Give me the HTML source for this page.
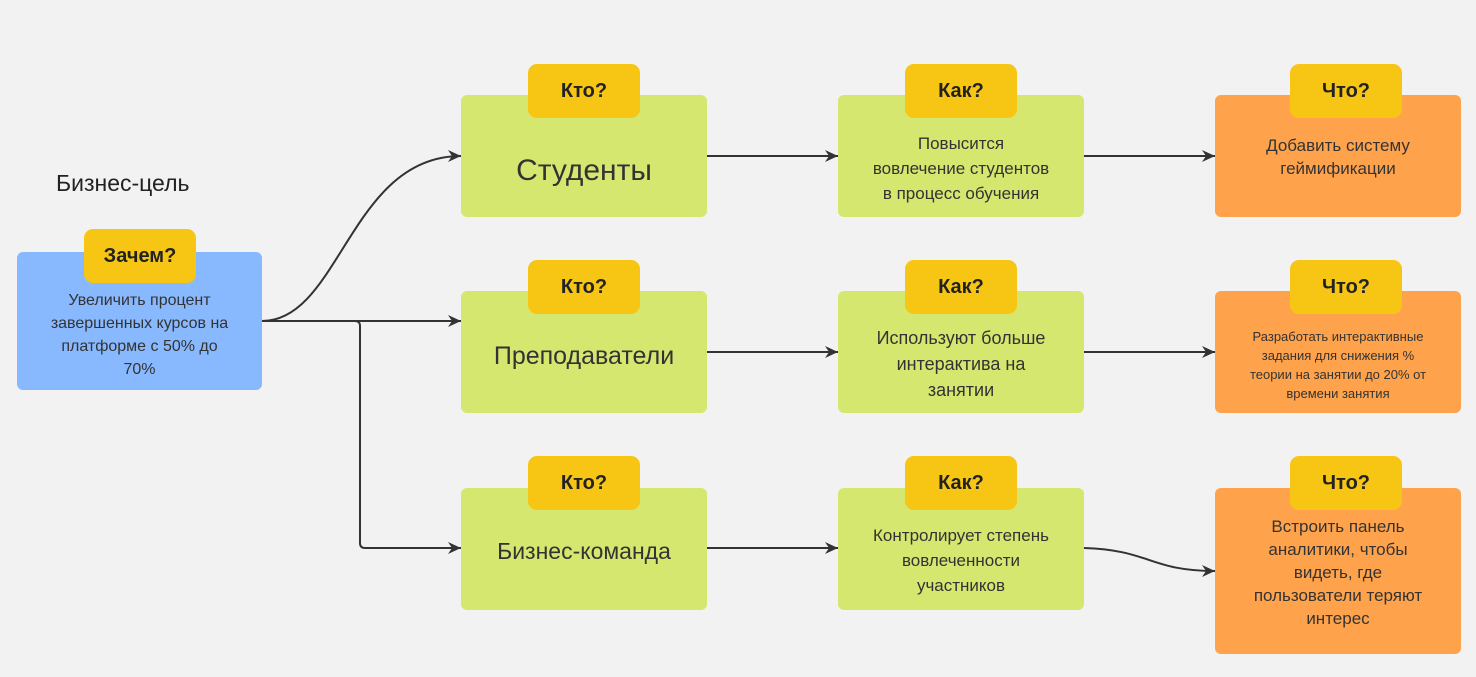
<!DOCTYPE html>
<html><head><meta charset="utf-8"><style>
body{margin:0;width:1476px;height:677px;background:#f2f2f2;position:relative;overflow:hidden;font-family:"Liberation Sans","DejaVu Sans",sans-serif;color:#333}
.b{position:absolute;border-radius:6px;display:flex;align-items:center;justify-content:center;text-align:center;box-sizing:border-box;white-space:nowrap}
.t{position:absolute;width:112px;height:54px;border-radius:9px;background:#f7c614;font-weight:bold;font-size:20px;color:#222;display:flex;justify-content:center;padding-top:16px;box-sizing:border-box}
.g{background:#d5e76f}.o{background:#fea34b}
svg{position:absolute;left:0;top:0}
</style></head><body>
<div style="position:absolute;left:56px;top:170px;font-size:23px;color:#222">Бизнес-цель</div>
<svg width="1476" height="677"><defs><marker id="a" markerWidth="14" markerHeight="14" refX="13" refY="7" orient="auto" markerUnits="userSpaceOnUse"><path d="M0,1 L13,7 L0,13 L4,7z" fill="#333"/></marker></defs>
<g stroke="#333" stroke-width="2" fill="none" marker-end="url(#a)">
<path d="M262,321 C340,321 350,156 461,156"/>
<path d="M262,321 L461,321"/>
<path d="M262,321 L355,321 Q360,321 360,326 L360,543 Q360,548 365,548 L461,548"/>
<path d="M707,156 L838,156"/><path d="M707,352 L838,352"/><path d="M707,548 L838,548"/>
<path d="M1084,156 L1215,156"/><path d="M1084,352 L1215,352"/>
<path d="M1084,548 C1150,550 1150,571 1215,571"/>
</g></svg>
<div class="b" style="left:17px;top:252px;width:245px;height:138px;background:#88b8fe;font-size:16px;line-height:23px;padding:28px 0 0">Увеличить процент<br>завершенных курсов на<br>платформе с 50% до<br>70%</div>
<div class="t" style="left:84px;top:229px">Зачем?</div>

<div class="b g" style="left:461px;top:95px;width:246px;height:122px;font-size:30px;padding-top:30px">Студенты</div>
<div class="b g" style="left:461px;top:291px;width:246px;height:122px;font-size:25px;padding-top:8px">Преподаватели</div>
<div class="b g" style="left:461px;top:488px;width:246px;height:122px;font-size:23px;padding-top:4px">Бизнес-команда</div>
<div class="t" style="left:528px;top:64px">Кто?</div>
<div class="t" style="left:528px;top:260px">Кто?</div>
<div class="t" style="left:528px;top:456px">Кто?</div>

<div class="b g" style="left:838px;top:95px;width:246px;height:122px;font-size:17px;line-height:25px;padding:24px 0 0">Повысится<br>вовлечение студентов<br>в процесс обучения</div>
<div class="b g" style="left:838px;top:291px;width:246px;height:122px;font-size:18px;line-height:26px;padding:24px 0 0">Используют больше<br>интерактива на<br>занятии</div>
<div class="b g" style="left:838px;top:488px;width:246px;height:122px;font-size:17px;line-height:25px;padding:22px 0 0">Контролирует степень<br>вовлеченности<br>участников</div>
<div class="t" style="left:905px;top:64px">Как?</div>
<div class="t" style="left:905px;top:260px">Как?</div>
<div class="t" style="left:905px;top:456px">Как?</div>

<div class="b o" style="left:1215px;top:95px;width:246px;height:122px;font-size:17px;line-height:23px;align-items:flex-start;padding-top:39px">Добавить систему<br>геймификации</div>
<div class="b o" style="left:1215px;top:291px;width:246px;height:122px;font-size:13px;line-height:19px;padding:26px 0 0">Разработать интерактивные<br>задания для снижения %<br>теории на занятии до 20% от<br>времени занятия</div>
<div class="b o" style="left:1215px;top:488px;width:246px;height:166px;font-size:17px;line-height:23px;align-items:flex-start;padding-top:27px">Встроить панель<br>аналитики, чтобы<br>видеть, где<br>пользователи теряют<br>интерес</div>
<div class="t" style="left:1290px;top:64px">Что?</div>
<div class="t" style="left:1290px;top:260px">Что?</div>
<div class="t" style="left:1290px;top:456px">Что?</div>
</body></html>
